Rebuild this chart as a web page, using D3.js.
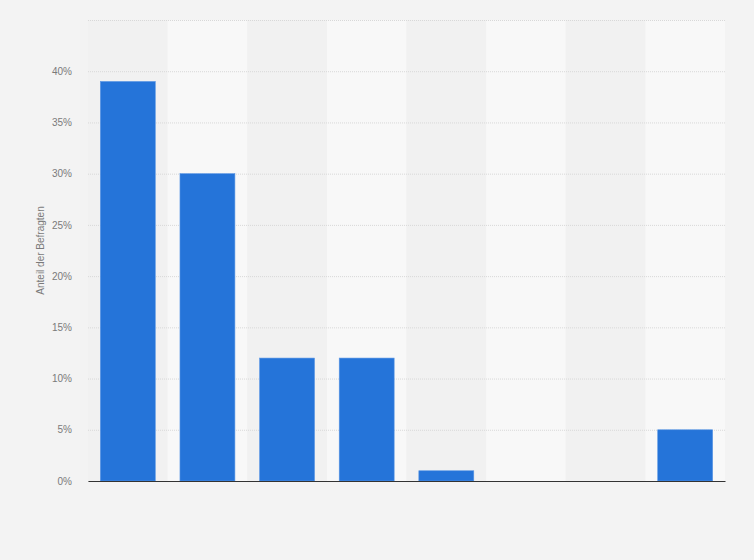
<!DOCTYPE html>
<html>
<head>
<meta charset="utf-8">
<script src="https://cdn.jsdelivr.net/npm/d3@7"></script>
<style>
  body { margin: 0; background: #f3f3f3; }
  svg { display: block; font-family: Arial, "Liberation Sans", sans-serif; }
</style>
</head>
<body>
<script>
// data
const categories = ['A', 'B', 'C', 'D', 'E', 'F', 'G', 'H'];
const values = [39, 30, 12, 12, 1, 0, 0, 5];
const tickValues = [0, 5, 10, 15, 20, 25, 30, 35, 40, 45];
const tickLabels = ['0%', '5%', '10%', '15%', '20%', '25%', '30%', '35%', '40%', ''];

const width = 754;
const height = 560;
const margin = { top: 20, right: 29, bottom: 79, left: 88 };
const plotW = width - margin.left - margin.right;
const plotH = height - margin.top - margin.bottom;

const svg = d3.select('body')
    .append('svg')
    .attr('width', width)
    .attr('height', height);

svg.append('rect')
    .attr('width', width)
    .attr('height', height)
    .attr('fill', '#f3f3f3');

const g = svg.append('g')
    .attr('transform', 'translate(' + margin.left + ',' + margin.top + ')');

const xBand = d3.scaleBand()
    .domain(categories)
    .range([0, plotW]);

const x = d3.scaleBand()
    .domain(categories)
    .range([0, plotW])
    .paddingInner(0.31)
    .paddingOuter(0.155);

const y = d3.scaleLinear()
    .domain([0, 45])
    .range([plotH, 0]);

// alternating column bands
g.selectAll('rect.band')
    .data(categories)
    .enter()
    .append('rect')
    .attr('class', 'band')
    .attr('x', d => xBand(d))
    .attr('y', 0)
    .attr('width', xBand.bandwidth())
    .attr('height', plotH)
    .attr('fill', (d, i) => i % 2 === 0 ? '#f1f1f1' : '#f8f8f8');

// grid
const yGrid = d3.axisLeft(y)
    .tickValues(tickValues)
    .tickSize(-plotW)
    .tickFormat('');

g.append('g')
    .call(yGrid)
    .call(s => s.select('.domain').remove())
    .call(s => s.selectAll('line')
        .attr('stroke', '#d8d8d8')
        .attr('stroke-dasharray', '1,1'));

// bars
g.selectAll('rect.bar')
    .data(values)
    .enter()
    .append('rect')
    .attr('class', 'bar')
    .attr('x', (d, i) => x(categories[i]))
    .attr('y', d => y(d))
    .attr('width', x.bandwidth())
    .attr('height', d => plotH - y(d))
    .attr('fill', '#2574d9')
    .attr('stroke', '#5a96e4')
    .attr('stroke-width', 0.6);

// y axis labels
const yAxis = d3.axisLeft(y)
    .tickValues(tickValues)
    .tickSize(0)
    .tickPadding(16)
    .tickFormat((d, i) => tickLabels[i]);

g.append('g')
    .call(yAxis)
    .call(s => s.select('.domain').remove())
    .call(s => s.selectAll('text')
        .attr('fill', '#7a7a7a')
        .style('font-size', '10px'));

// baseline
g.append('g')
    .attr('transform', 'translate(0,' + plotH + ')')
    .call(d3.axisBottom(xBand).tickSize(0).tickFormat(''))
    .call(s => s.select('.domain')
        .attr('stroke', '#333')
        .attr('stroke-width', 1.2));

svg.append('text')
    .attr('transform', 'translate(44,' + (margin.top + plotH / 2) + ') rotate(-90)')
    .attr('text-anchor', 'middle')
    .attr('fill', '#7a7a7a')
    .style('font-size', '10px')
    .text('Anteil der Befragten');
</script>
</body>
</html>
